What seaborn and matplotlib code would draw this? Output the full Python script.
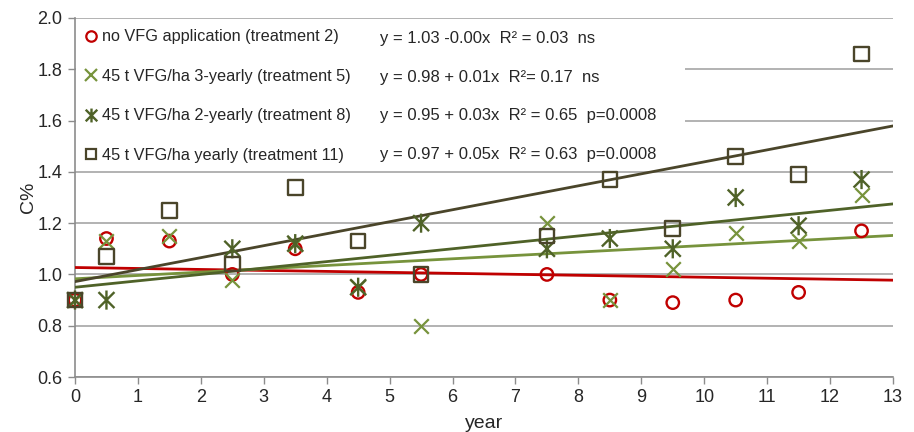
import numpy as np
import pandas as pd
import matplotlib
matplotlib.use("Agg")
import matplotlib.pyplot as plt
from matplotlib.path import Path
from matplotlib.patches import Rectangle
from matplotlib.lines import Line2D
import seaborn as sns

# measurement years
years = [0, 0.5, 1.5, 2.5, 3.5, 4.5, 5.5, 7.5, 8.5, 9.5, 10.5, 11.5, 12.5]

# C% per treatment
t2 = [0.90, 1.14, 1.13, 1.00, 1.10, 0.93, 1.00, 1.00, 0.90, 0.89, 0.90, 0.93, 1.17]
t5 = [0.90, 1.13, 1.15, 0.98, 1.12, 0.95, 0.80, 1.20, 0.90, 1.02, 1.16, 1.13, 1.31]
t8 = [0.90, 0.90, np.nan, 1.10, 1.12, 0.95, 1.20, 1.10, 1.14, 1.10, 1.30, 1.19, 1.37]
t11 = [0.90, 1.07, 1.25, 1.04, 1.34, 1.13, 1.00, 1.15, 1.37, 1.18, 1.46, 1.39, 1.86]

# trend lines (intercept, slope) as drawn
intercepts = [1.027, 0.983, 0.950, 0.972]
slopes = [-0.0038, 0.0130, 0.0250, 0.0467]

labels = ["no VFG application (treatment 2)",
          "45 t VFG/ha 3-yearly (treatment 5)",
          "45 t VFG/ha 2-yearly (treatment 8)",
          "45 t VFG/ha yearly (treatment 11)"]
equations = ["y = 1.03 -0.00x  R\u00b2 = 0.03  ns",
             "y = 0.98 + 0.01x  R\u00b2= 0.17  ns",
             "y = 0.95 + 0.03x  R\u00b2 = 0.65  p=0.0008",
             "y = 0.97 + 0.05x  R\u00b2 = 0.63  p=0.0008"]

colors = ["#C00000", "#77933C", "#4F6228", "#4A452A"]

# excel-like star marker: x with a vertical bar
star = Path([(-1, -1), (1, 1), (-1, 1), (1, -1), (0, -1.2), (0, 1.2)],
            [Path.MOVETO, Path.LINETO, Path.MOVETO, Path.LINETO, Path.MOVETO, Path.LINETO])
markers = ["o", "x", star, "s"]
sizes = [80, 110, 190, 110]

sns.set_style("white")
plt.rcParams["font.family"] = ["Liberation Sans", "DejaVu Sans"]

fig = plt.figure(figsize=(9.14, 4.32), dpi=100)
ax = fig.add_axes([75 / 914, 55 / 432, 818 / 914, 359 / 432])

series = [t2, t5, t8, t11]
xline = np.array([0, 13])
for i, vals in enumerate(series):
    df = pd.DataFrame({"year": years, "C": vals}).dropna()
    yline = intercepts[i] + slopes[i] * xline
    sns.lineplot(x=xline, y=yline, color=colors[i], lw=2.0, ax=ax, zorder=3)
    if markers[i] == "x":
        sns.scatterplot(data=df, x="year", y="C", marker="x", s=sizes[i],
                        color=colors[i], linewidth=1.6, ax=ax, zorder=4, clip_on=False)
    else:
        sns.scatterplot(data=df, x="year", y="C", marker=markers[i], s=sizes[i],
                        color=colors[i], facecolor="none", edgecolor=colors[i],
                        linewidth=1.7, ax=ax, zorder=4, clip_on=False)

ax.set_xlim(0, 13)
ax.set_ylim(0.6, 2.0)
ax.set_xticks(range(0, 14))
ax.set_yticks(np.arange(0.6, 2.01, 0.2))
ax.yaxis.set_major_formatter(matplotlib.ticker.FormatStrFormatter("%.1f"))
ax.grid(axis="y", color="#A6A6A6", lw=1.2, zorder=0)
ax.set_axisbelow(True)
for s in ["top", "right"]:
    ax.spines[s].set_visible(False)
for s in ["left", "bottom"]:
    ax.spines[s].set_color("#8C8C8C")
    ax.spines[s].set_linewidth(1.2)
ax.tick_params(axis="both", direction="out", length=5, width=1, color="#8C8C8C",
               labelsize=13, pad=4, left=True, bottom=True)

ax.set_ylabel("C%", fontsize=14, labelpad=0)
ax.set_xlabel("year", fontsize=14, labelpad=6)

# white panel behind legend and equations
ax.add_patch(Rectangle((0.02, 1.415), 9.68, 0.578, facecolor="white",
                       edgecolor="none", zorder=1))

handles = []
for i in range(4):
    if markers[i] == "x":
        h = Line2D([], [], ls="none", marker="x", markersize=8,
                   color=colors[i], markeredgewidth=1.6)
    elif markers[i] is star:
        h = Line2D([], [], ls="none", marker=star, markersize=10,
                   markerfacecolor="none", markeredgecolor=colors[i], markeredgewidth=1.7)
    else:
        h = Line2D([], [], ls="none", marker=markers[i], markersize=7.5,
                   markerfacecolor="none", markeredgecolor=colors[i], markeredgewidth=1.6)
    handles.append(h)
leg = ax.legend(handles, labels, loc="upper left", bbox_to_anchor=(0.012, 0.968),
                frameon=False, fontsize=11.7, handlelength=0.8, handletextpad=0.25,
                labelspacing=1.5, borderpad=0, borderaxespad=0)
leg.set_zorder(5)

eq_y = [1.92, 1.768, 1.62, 1.468]
for i in range(4):
    ax.text(4.85, eq_y[i], equations[i], fontsize=12, va="center", ha="left", zorder=5)

fig.savefig("out.png", dpi=100)
